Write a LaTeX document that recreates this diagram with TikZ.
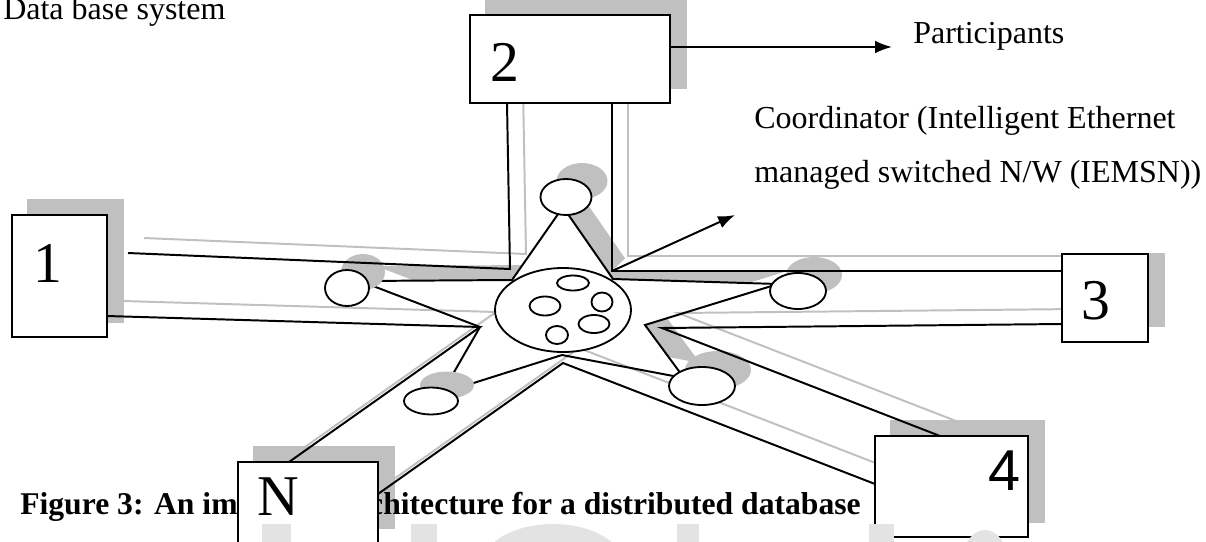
\documentclass[tikz,border=0pt]{standalone}
\usepackage{fontspec}
\setmainfont{Liberation Serif}
\newfontfamily\sansdigit{Liberation Sans}
\usetikzlibrary{shapes.geometric,arrows.meta,calc,backgrounds}
\definecolor{shadowgray}{HTML}{C0C0C0}
\definecolor{markgray}{HTML}{E3E3E3}
\newcommand\pxu{0.025cm}
\newcommand\starpath{(topv) -- (A) -- (leftv) -- (B) -- (llv) -- (C) -- (lrv) -- (D) -- (rightv) -- (E) -- cycle}
\newcommand\sitelist{t/566/197/51/36, l/347/288/44/36, ll/431/401/54/27, lr/702/386/66/38, r/798/291/56/36}
\newcommand\wirelist{b1a/P/b2a, b2b/Q/b3a, b3b/F/b4a, b4b/G/bNb, bNa/B/b1b}

\begin{document}
\begin{tikzpicture}[x=0.025cm, y=-0.025cm,
	wire/.style={line width=1.4pt},
	ghost/.style={draw=shadowgray, line width=1.4pt},
	box/.style={draw, fill=white, line width=1.3pt, inner sep=0pt},
	site/.style={ellipse, draw, fill=white, line width=1.3pt, inner sep=0pt},
	boxlabel/.style={anchor=base, inner sep=0pt, font=\fontsize{41}{41}\selectfont},
	txt/.style={anchor=base west, inner sep=0pt, font=\fontsize{22.76}{27}\selectfont},
	wmark/.style={fill=markgray}]
	\useasboundingbox (0,0) rectangle (1206,541);
	
	% caption sits under box N
	\node[txt, font=\fontsize{22.5}{27}\selectfont\bfseries] (caption) at (20,514) {Figure 3: An improved architecture for a distributed database};
	
	% the five sites
	\node[box, minimum width=95*\pxu, minimum height=122*\pxu] (box1) at (59.5,276) {};
	\node[box, minimum width=200*\pxu, minimum height=88*\pxu] (box2) at (570,59) {};
	\node[box, minimum width=86*\pxu, minimum height=88*\pxu] (box3) at (1105,298) {};
	\node[box, minimum width=153*\pxu, minimum height=101*\pxu] (box4) at (951.5,486.5) {};
	\node[box, minimum width=140*\pxu, minimum height=81*\pxu] (boxN) at (308,502.5) {};
	\node[boxlabel] (lab1) at (47.5,282) {1};
	\node[boxlabel] (lab2) at (505,81) {2};
	\node[boxlabel] (lab3) at (1096,319) {3};
	\node[boxlabel, font=\sansdigit\fontsize{41}{41}\selectfont] (lab4) at (1005,490) {4};
	\node[boxlabel] (labN) at (278,515) {N};
	
	% star corners and wire joints
	\coordinate (topv) at (563,207);
	\coordinate (A) at (512,280);
	\coordinate (leftv) at (360,281);
	\coordinate (B) at (480,327);
	\coordinate (llv) at (442,393);
	\coordinate (C) at (562,355);
	\coordinate (lrv) at (684,378);
	\coordinate (D) at (645,325);
	\coordinate (rightv) at (778,284);
	\coordinate (E) at (613,279);
	\coordinate (P) at (510,269);
	\coordinate (Q) at (612,271);
	\coordinate (F) at (662,328);
	\coordinate (G) at (563,363);
	\coordinate (b1a) at (128,253);
	\coordinate (b1b) at (107,316);
	\coordinate (b2a) at (507,103);
	\coordinate (b2b) at (612,103);
	\coordinate (b3a) at (1062,271);
	\coordinate (b3b) at (1062,324);
	\coordinate (b4a) at (940,436);
	\coordinate (b4b) at (875,484);
	\coordinate (bNa) at (289,462);
	\coordinate (bNb) at (378,494);
	\coordinate (ctip) at (735,215);
	\coordinate (ptip) at (892,47);
	
	\begin{scope}[on background layer]
		\begin{scope}[transform canvas={shift={(16,-15)}}]
			\foreach \b in {box1,box2,box4,boxN}
			\fill[shadowgray] (\b.south west) rectangle (\b.north east);
			\fill[shadowgray] \starpath;
		\end{scope}
		\fill[shadowgray] ($(box3.north west)+(16,0)$) rectangle ($(box3.south east)+(16,-16)$);
		\fill[white] \starpath;
		% strip between the wire to box 3 and its shadow
		\fill[white] (Q) -- (b3a) -- ($(b3a)+(16,-15)$) -- ($(Q)+(16,-15)$) -- cycle;
		\begin{scope}[transform canvas={shift={(16,-15)}}]
			\foreach \p/\q/\r in \wirelist
			\draw[ghost] (\p) -- (\q) -- (\r);
		\end{scope}
	\end{scope}
	
	\draw[wire, line join=miter] \starpath;
	\foreach \n/\cx/\cy/\w/\h in \sitelist
	\fill[shadowgray] (\cx+16,\cy-16) ellipse [x radius=\w/2, y radius=\h/2];
	\foreach \p/\q/\r in \wirelist
	\draw[wire] (\p) -- (\q) -- (\r);
	\foreach \n/\cx/\cy/\w/\h in \sitelist
	\node[site, minimum width=\w*\pxu, minimum height=\h*\pxu] (\n) at (\cx,\cy) {};
	
	% coordinator with its databases
	\node[site, minimum width=136*\pxu, minimum height=84*\pxu] (hub) at (563,310) {};
	\foreach \n/\cx/\cy/\w/\h in {d1/573/283/32/15, d2/545/306/31/19, d3/602/302/21/19, d4/594/324/31/18, d5/557/335/22/18}
	\node[site, minimum width=\w*\pxu, minimum height=\h*\pxu] (\n) at (\cx,\cy) {};
	
	\draw[wire, -{Latex[length=12pt,width=9pt]}] (Q) -- (ctip);
	\draw[wire, -{Latex[length=12pt,width=9pt]}] (box2.east |- ptip) -- (ptip);
	
	\node[txt] (dbs) at (3,19) {Data base system};
	\node[txt] (part) at (913,43) {Participants};
	\node[txt] (coord1) at (754,128) {Coordinator (Intelligent Ethernet};
	\node[txt] (coord2) at (754,182) {managed switched N/W (IEMSN))};
	
	% watermark tops along the bottom edge
	\foreach \l/\r in {262/291, 411/437, 677/699, 869/894}
	\fill[wmark] (\l,524) rectangle (\r,545);
	\fill[wmark] (553,564) ellipse [x radius=70, y radius=40];
	\fill[wmark] (985,566) ellipse [x radius=24, y radius=36];
\end{tikzpicture}
\end{document}
